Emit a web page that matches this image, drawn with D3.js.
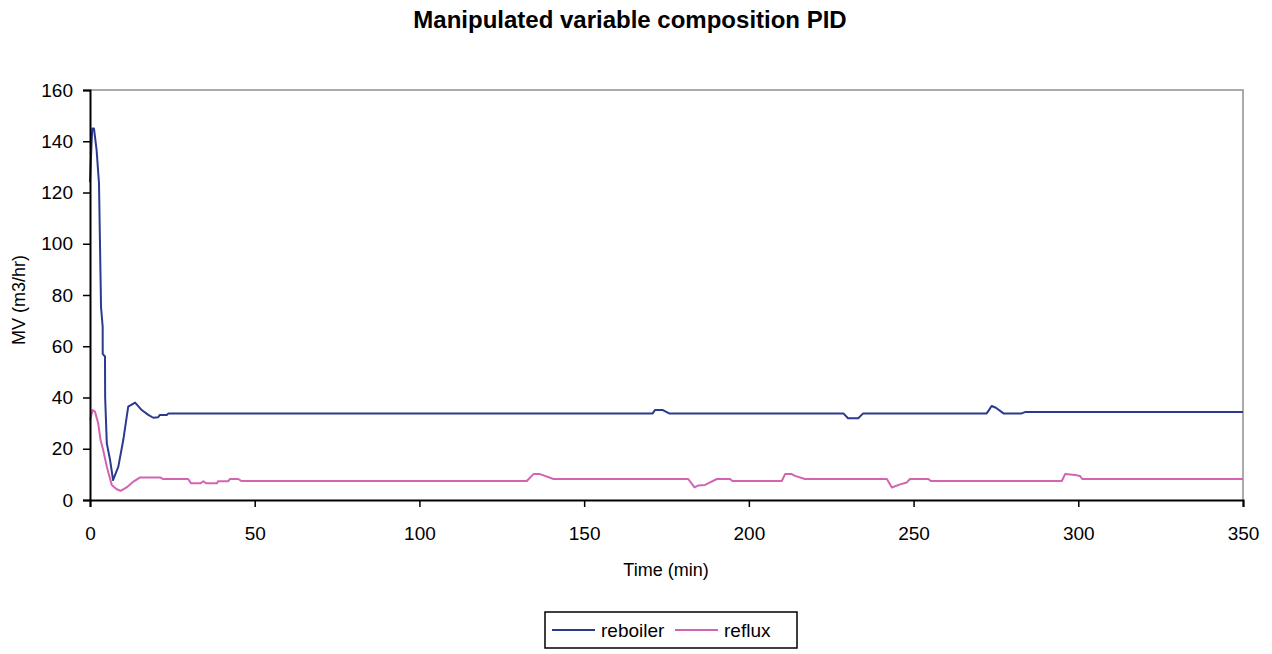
<!DOCTYPE html>
<html><head><meta charset="utf-8">
<script src="https://cdn.jsdelivr.net/npm/d3@7"></script>
<style>body{margin:0;background:#fff;} svg{font-family:Arial,"Liberation Sans",sans-serif;}</style>
</head><body>
<svg id="c" width="1272" height="654"></svg>
<script>
const title = "Manipulated variable composition PID";
const xLabel = "Time (min)";
const yLabel = "MV (m3/hr)";
const xTicks = [0,50,100,150,200,250,300,350];
const yTicks = [0,20,40,60,80,100,120,140,160];
const seriesNames = ["reboiler","reflux"];
const reboilerT = [0,0.5,0.7,1.2,2,2.73,3.25,3.34,3.85,3.86,4.55,4.6,5.1,6.1,7.0,8.6,10.1,11.6,13.7,15.7,17.7,19.2,20.7,21.2,23.3,23.8,170.8,171.5,173.9,175.8,228.7,230.1,233.2,234.7,272.2,273.7,275,277.3,282.8,283.8,350];
const reboilerV = [124,140,145,145,136.6,123.6,83,75.4,67.6,57,56,40,22.1,15.6,7.8,13,23.4,36.4,38,35.1,33.2,32.1,32.3,33.2,33.2,33.8,33.8,35.1,35.1,33.8,33.8,31.9,31.9,33.8,33.8,36.7,36,33.8,33.8,34.3,34.3];
const refluxT = [0,0.8,1.5,2.5,3.2,4.0,5.1,6.6,8.1,9.3,11.1,13.2,15.2,21.3,22.1,29.8,30.7,33.5,34.4,35.3,38.5,38.9,41.9,42.5,45,46,132.6,134.6,136.6,140.7,181.6,183.5,184.7,186.7,190.3,194.3,195,210,211,213,214,217,241.9,243.4,245.9,247.9,248.9,254.5,255.2,295,296,299,300.5,301.2,350];
const refluxV = [31.2,35.1,34.5,29.9,23.4,19.5,13,5.9,4.2,3.6,4.9,7.2,8.8,8.8,8.2,8.2,6.5,6.5,7.3,6.5,6.5,7.3,7.3,8.2,8.2,7.4,7.4,10.1,10.1,8.2,8.2,4.9,5.7,5.9,8.2,8.2,7.4,7.4,10.1,10.1,9.4,8.2,8.2,4.9,6.1,6.8,8.2,8.2,7.4,7.4,10.1,9.8,9.4,8.2,8.2];
const colors = ["#2b3a8e","#d264b2"];

const svg = d3.select("#c");
const L=90,R=1243,T=90,B=500;
const x = d3.scaleLinear().domain([0,350]).range([L,R]);
const y = d3.scaleLinear().domain([0,160]).range([B,T]);

svg.append("path").attr("d",`M${L},${T}H${R}V${B}`).attr("fill","none").attr("stroke","#909090").attr("stroke-width",1.5);

const series = [
  {name:seriesNames[0], pts:reboilerT.map((t,i)=>[t,reboilerV[i]]), color:colors[0]},
  {name:seriesNames[1], pts:refluxT.map((t,i)=>[t,refluxV[i]]), color:colors[1]}
];
const line = d3.line().x(d=>x(d[0])).y(d=>y(d[1]));
series.slice().reverse().forEach(s=>{
  svg.append("path").attr("d",line(s.pts)).attr("fill","none").attr("stroke",s.color).attr("stroke-width",2).attr("stroke-linejoin","round");
});

const gx = svg.append("g").attr("transform",`translate(0,${B})`)
  .call(d3.axisBottom(x).tickValues(xTicks).tickSize(7).tickPadding(20).tickFormat(d3.format("d")));
const gy = svg.append("g").attr("transform",`translate(${L},0)`)
  .call(d3.axisLeft(y).tickValues(yTicks).tickSize(7).tickPadding(10).tickFormat(d3.format("d")));
[gx,gy].forEach(g=>{
  g.select(".domain").attr("stroke","#000").attr("stroke-width",2);
  g.selectAll(".tick line").attr("stroke","#000").attr("stroke-width",1.5);
  g.selectAll("text").attr("font-size",19).attr("fill","#000").attr("font-family","Arial, 'Liberation Sans', sans-serif");
});

svg.append("text").attr("x",630).attr("y",28).attr("text-anchor","middle").attr("font-size",24).attr("font-weight","bold").text(title);
svg.append("text").attr("x",666).attr("y",576).attr("text-anchor","middle").attr("font-size",18).text(xLabel);
svg.append("text").attr("transform","translate(25,300) rotate(-90)").attr("text-anchor","middle").attr("font-size",18).text(yLabel);

const lg = svg.append("g");
lg.append("rect").attr("x",545).attr("y",612).attr("width",252).attr("height",36).attr("fill","#fff").attr("stroke","#000").attr("stroke-width",1.5);
const lx=[552,675];
series.forEach((s,i)=>{
  lg.append("line").attr("x1",lx[i]).attr("x2",lx[i]+43).attr("y1",630).attr("y2",630).attr("stroke",s.color).attr("stroke-width",2);
  lg.append("text").attr("x",lx[i]+49).attr("y",637).attr("font-size",19).text(s.name);
});
</script>
</body></html>
